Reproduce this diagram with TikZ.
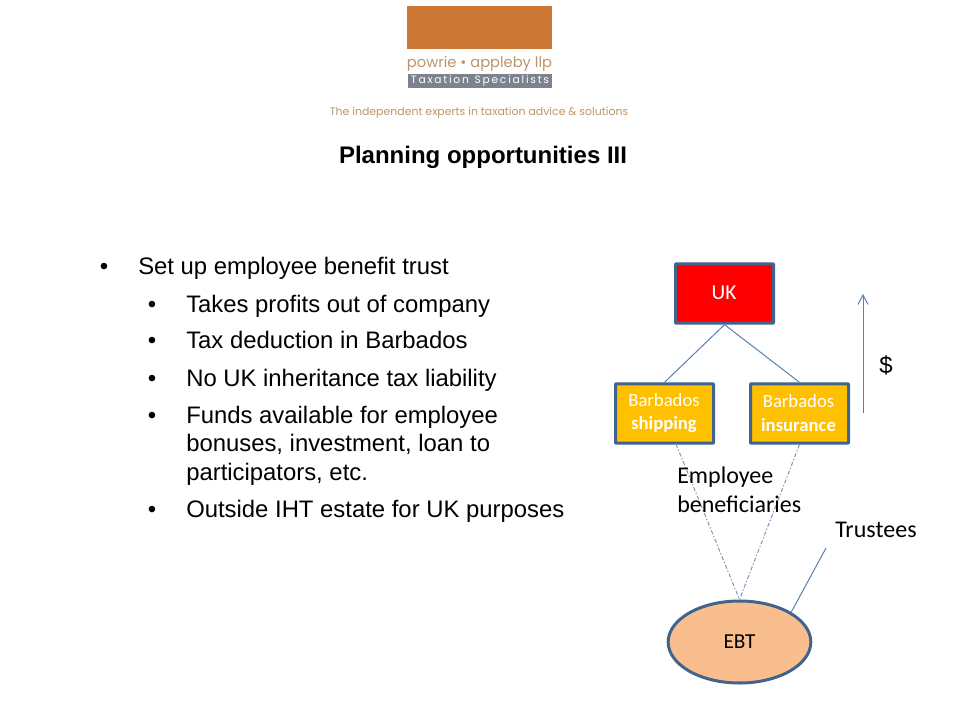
\documentclass[tikz,border=0pt]{standalone}
\usepackage{fontspec}
\setmainfont{Liberation Sans}
\newfontfamily\boxfont{Carlito}
\newfontfamily\logofont{Poppins}
\usetikzlibrary{shapes.geometric,arrows.meta}
\definecolor{boxline}{HTML}{41648F}
\definecolor{thinline}{HTML}{5B7FAF}
\definecolor{dashline}{HTML}{7F96B5}
\definecolor{logoorange}{HTML}{CC7733}
\definecolor{logotan}{HTML}{BC9469}
\definecolor{logogrey}{HTML}{7D838E}
\definecolor{boxamber}{HTML}{FFC000}
\definecolor{ovalfill}{HTML}{F9BE8D}
\tikzset{
	bullettext/.style={anchor=base west,inner sep=0pt,font=\fontsize{17.9}{21.7}\selectfont,align=left},
	bulletmark/.style={anchor=base,inner sep=0pt,font=\fontsize{18}{20}\selectfont},
	ownbox/.style={shape=rectangle,draw=boxline,line width=2.25pt,minimum width=73.5pt,minimum height=44.5pt,inner sep=0pt,rounded corners=0.5pt},
	boxlabel/.style={font=\boxfont\fontsize{14}{17.5}\selectfont,align=center,text=white},
	notelabel/.style={font=\boxfont\fontsize{18}{22}\selectfont,align=left,inner sep=0pt},
	thin link/.style={draw=thinline,line width=0.75pt},
	trust link/.style={draw=dashline,line width=0.75pt,dash pattern=on 3pt off 1.5pt on 1pt off 1.5pt}
}
\begin{document}
\begin{tikzpicture}[x=0.75pt,y=-0.75pt]
	\useasboundingbox (0,0) rectangle (960,720);

	% logo
	\node[fill=logoorange,minimum width=108.75pt,minimum height=32.25pt,inner sep=0pt] (logoBlock) at (479.5,27.5) {};
	\node[text=logotan,font=\logofont\fontsize{11}{14}\selectfont,inner sep=0pt] (logoName) at (479.5,63.5) {powrie \textbullet\ appleby llp};
	\node[fill=logogrey,text=white,minimum width=108pt,minimum height=10.5pt,inner sep=0pt,font=\logofont\fontsize{8}{9}\selectfont] (logoTag) at (480,81) {T\,a\,x\,a\,t\,i\,o\,n\ \ S\,p\,e\,c\,i\,a\,l\,i\,s\,t\,s};
	\node[text=logotan,font=\logofont\fontsize{8.2}{9}\selectfont,inner sep=0pt] (strapline) at (479,112.5) {The independent experts in taxation advice \& solutions};

	\node[font=\bfseries\fontsize{18}{20}\selectfont,inner sep=0pt] (heading) at (483,157) {Planning opportunities III};

	% bullets
	\node[bulletmark] (markA) at (104,275) {\textbullet};
	\node[bullettext] (lineA) at (138,275) {Set up employee benefit trust};
	\node[bulletmark] (markB) at (152,312) {\textbullet};
	\node[bullettext] (lineB) at (186,312) {Takes profits out of company};
	\node[bulletmark] (markC) at (152,349) {\textbullet};
	\node[bullettext] (lineC) at (186,349) {Tax deduction in Barbados};
	\node[bulletmark] (markD) at (152,386) {\textbullet};
	\node[bullettext] (lineD) at (186,386) {No UK inheritance tax liability};
	\node[bulletmark] (markE) at (152,423) {\textbullet};
	\node[bullettext,anchor=north west] (lineE) at (186,405.5) {Funds available for employee\\bonuses, investment, loan to\\participators, etc.};
	\node[bulletmark] (markF) at (152,517) {\textbullet};
	\node[bullettext] (lineF) at (186,517) {Outside IHT estate for UK purposes};

	% diagram
	\node[ownbox,fill=red] (uk) at (724.5,293.5) {};
	\node[boxlabel,font=\boxfont\fontsize{16}{18}\selectfont] (ukLabel) at (724,293) {UK};
	\node[ownbox,fill=boxamber] (shipping) at (664.5,413.5) {};
	\node[boxlabel] (shippingLabel) at (664,413) {Barbados\\\textbf{shipping}};
	\node[ownbox,fill=boxamber] (insurance) at (799.5,413.5) {};
	\node[boxlabel] (insuranceLabel) at (798.5,413) {Barbados\\\textbf{insurance}};
	\node[shape=ellipse,draw=boxline,line width=2.25pt,fill=ovalfill,minimum width=107pt,minimum height=61.5pt,inner sep=0pt,font=\boxfont\fontsize{16}{18}\selectfont] (ebt) at (739.5,642) {EBT};

	\coordinate (shippingFoot) at (676,444);
	\coordinate (flowStart) at (863,413);
	\coordinate (flowEnd) at (863,294);
	\coordinate (trusteeEnd) at (826,548);

	\path[thin link](uk.south) edge (shipping.north);
	\path[thin link](uk.south) edge (insurance.north);
	\path[trust link](shippingFoot) edge (ebt.north);
	\path[trust link](insurance.south) edge (ebt.north);
	\path[thin link](ebt.30) edge (trusteeEnd);
	\path[thin link](flowStart) edge[-{Straight Barb[length=7pt,width=7.5pt]}] (flowEnd);

	\node[font=\fontsize{18}{20}\selectfont,inner sep=0pt] (dollar) at (886,365) {\$};
	\node[notelabel,anchor=north west] (employees) at (677,466.5) {Employee\\beneficiaries};
	\node[notelabel,anchor=base west] (trustees) at (835,537.5) {Trustees};
\end{tikzpicture}
\end{document}
